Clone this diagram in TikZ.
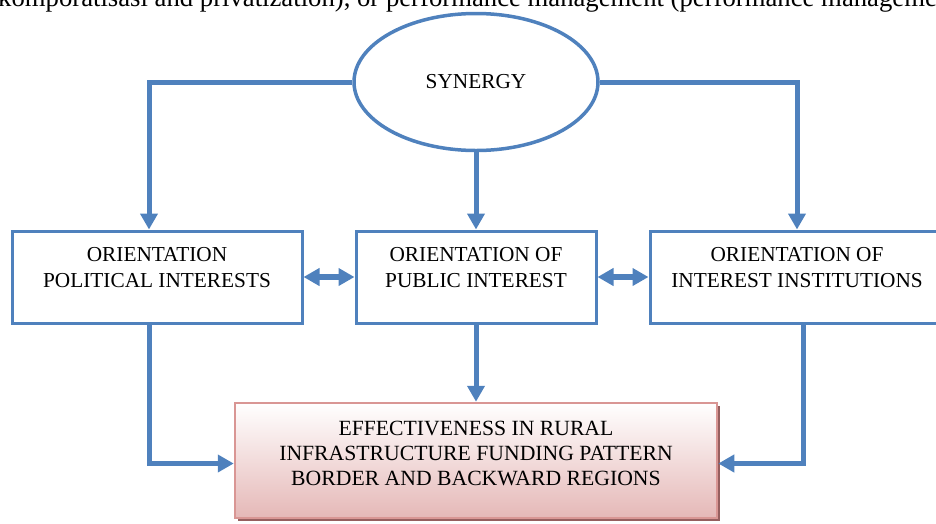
\documentclass[tikz,border=0pt]{standalone}
\usepackage{fontspec}
\setmainfont{Liberation Serif}
\usetikzlibrary{shapes.geometric,arrows.meta,shadows}

\definecolor{linkblue}{RGB}{79,129,189}
\definecolor{effline}{RGB}{217,150,148}
\definecolor{effbottom}{RGB}{229,184,183}
\definecolor{effshadow}{RGB}{150,95,95}

\begin{document}
\begin{tikzpicture}[x=1pt,y=1pt,
  every node/.style={inner sep=0pt,font=\fontsize{21.3}{26}\selectfont},
  orient/.style={draw=linkblue,line width=3pt,minimum height=92pt,align=center},
  flow/.style={draw=linkblue,line width=5pt,-{Triangle[width=17pt,length=16pt]}},
  both/.style={draw=linkblue,line width=5.5pt,{Triangle[width=17pt,length=16pt]}-{Triangle[width=17pt,length=16pt]}}]
\useasboundingbox (0,0) rectangle (936,-523);
\clip (0,0) rectangle (936,-523);
% running text cut off by the figure
\node[anchor=base west,font=\fontsize{26.7}{30}\selectfont] (cut) at (-2,-6)
  {komporatisasi and privatization), or performance management (performance management};
% nodes
\node[ellipse,draw=linkblue,line width=3.5pt,minimum width=244pt,minimum height=137pt] (syn) at (476,-82) {\raisebox{-6pt}{SYNERGY}};
\node[orient,minimum width=290pt] (pol) at (157,-277) {ORIENTATION\\POLITICAL INTERESTS\\[-6pt]\mbox{}};
\node[orient,minimum width=240pt] (pub) at (476,-277) {ORIENTATION OF\\PUBLIC INTEREST\\[-6pt]\mbox{}};
\node[orient,minimum width=294pt] (inst) at (797,-277) {ORIENTATION OF\\INTEREST INSTITUTIONS\\[-6pt]\mbox{}};
\node[draw=effline,line width=2.5pt,top color=white,bottom color=effbottom,
  general shadow={shadow xshift=3pt,shadow yshift=-3pt,fill=effshadow},
  minimum width=482pt,minimum height=115pt,align=center,font=\fontsize{21.7}{25}\selectfont] (eff) at (476,-460.5)
  {EFFECTIVENESS IN RURAL\\INFRASTRUCTURE FUNDING PATTERN\\BORDER AND BACKWARD REGIONS\\[-11pt]\mbox{}};
% connectors
\draw[flow] (syn.west) -| ([xshift=-8pt]pol.north);
\draw[flow] (syn.east) -| (inst.north);
\draw[flow] (syn.south) -- (pub.north);
\draw[both] (pol.east) -- (pub.west);
\draw[both] (pub.east) -- (inst.west);
\draw[flow] ([xshift=-8pt]pol.south) |- ([yshift=-3pt]eff.west);
\draw[flow] ([xshift=6pt]inst.south) |- ([yshift=-3pt]eff.east);
\draw[flow] (pub.south) -- (eff.north);
\end{tikzpicture}
\end{document}
